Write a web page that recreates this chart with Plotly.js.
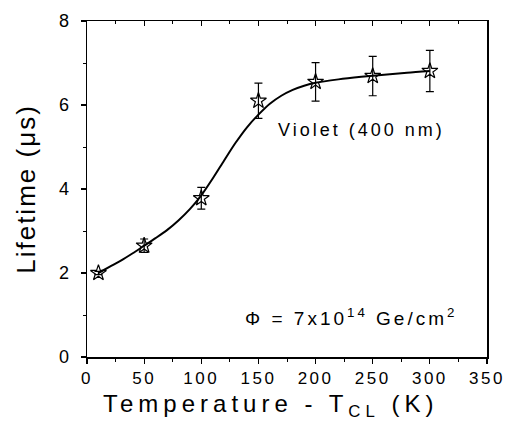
<!DOCTYPE html>
<html>
<head>
<meta charset="utf-8">
<script src="https://cdn.plot.ly/plotly-3.0.1.min.js"></script>
<style>
html,body{margin:0;padding:0;background:#fff;}
#chart{width:509px;height:431px;}
.xtick text{letter-spacing:2.5px;}
.ytitle{letter-spacing:2px;}
.annotation-text{letter-spacing:3px;}
</style>
</head>
<body>
<div id="chart"></div>
<script>
// Measured data points
const tempK = [10, 50, 100, 150, 200, 250, 300];
const lifetime = [2.0, 2.65, 3.78, 6.1, 6.55, 6.69, 6.81];
const lifetimeErr = [0.04, 0.16, 0.26, 0.42, 0.46, 0.47, 0.49];

// Fitted curve
const fitT = [10, 20, 30, 40, 50, 60, 70, 80, 90, 100, 110, 120, 130, 140, 150, 160, 170, 180, 190, 200, 220, 240, 260, 280, 300];
const fitLifetime = [2.0, 2.15, 2.3, 2.47, 2.65, 2.83, 3.02, 3.25, 3.52, 3.85, 4.25, 4.68, 5.1, 5.47, 5.77, 6.03, 6.22, 6.36, 6.46, 6.53, 6.61, 6.67, 6.72, 6.77, 6.81];

const xTickVals = [0, 50, 100, 150, 200, 250, 300, 350];
const yTickVals = [0, 2, 4, 6, 8];

const xTitle = 'Temperature - T<sub>CL</sub> (K)';
const yTitle = 'Lifetime (μs)';
const label1 = 'Violet (400 nm)';
const label2 = 'Φ = 7x10<sup>14</sup> Ge/cm<sup>2</sup>';

const font = 'Liberation Sans, Arial, Helvetica, sans-serif';

const traces = [
  {
    x: fitT, y: fitLifetime, type: 'scatter', mode: 'lines',
    line: {color: '#000', width: 2, shape: 'spline', smoothing: 0.8},
    hoverinfo: 'skip', showlegend: false
  },
  {
    x: tempK, y: lifetime, type: 'scatter', mode: 'markers',
    marker: {symbol: 'star-open', size: 12, color: '#000', line: {width: 1.2, color: '#000'}},
    error_y: {type: 'data', array: lifetimeErr, visible: true, color: '#000', thickness: 1.2, width: 4},
    showlegend: false
  },
  {
    x: [0, 350], y: [0, 8], xaxis: 'x2', yaxis: 'y', type: 'scatter', mode: 'markers',
    marker: {opacity: 0}, hoverinfo: 'skip', showlegend: false
  }
];

const layout = {
  width: 509, height: 431,
  margin: {l: 87, r: 22, t: 21, b: 74},
  paper_bgcolor: '#fff', plot_bgcolor: '#fff',
  font: {family: font, color: '#000'},
  xaxis: {
    range: [0, 350], tickvals: xTickVals, ticktext: xTickVals.map(String),
    showgrid: false, zeroline: false,
    showline: true, linecolor: '#000', linewidth: 1.5, mirror: true,
    ticks: 'outside', ticklen: 5, tickwidth: 1.2, tickcolor: '#000',
    minor: {dtick: 25, tick0: 0, ticks: 'outside', ticklen: 3, tickwidth: 1, tickcolor: '#000', showgrid: false},
    tickfont: {size: 17, family: font}
  },
  xaxis2: {
    range: [0, 350], overlaying: 'x', side: 'top', anchor: 'y',
    tickvals: xTickVals, showticklabels: false,
    showgrid: false, zeroline: false, showline: false,
    ticks: 'inside', ticklen: 5, tickwidth: 1.2, tickcolor: '#000',
    minor: {dtick: 25, tick0: 0, ticks: 'inside', ticklen: 3, tickwidth: 1, tickcolor: '#000', showgrid: false}
  },
  yaxis: {
    range: [0, 8], tickvals: yTickVals, ticktext: yTickVals.map(String),
    showgrid: false, zeroline: false,
    showline: true, linecolor: '#000', linewidth: 1.5, mirror: true,
    ticks: 'outside', ticklen: 5, tickwidth: 1.2, tickcolor: '#000',
    ticklabelstandoff: 8,
    minor: {dtick: 1, tick0: 0, ticks: 'outside', ticklen: 3, tickwidth: 1, tickcolor: '#000', showgrid: false},
    tickfont: {size: 18, family: font},
    title: {text: yTitle, font: {size: 26, family: font}, standoff: 16}
  },
  annotations: [
    {x: 0.4575, y: -0.143, xref: 'paper', yref: 'paper', text: xTitle, showarrow: false,
     font: {size: 24, family: font, color: '#000'}, xanchor: 'center', yanchor: 'middle'},
    {x: 240, y: 5.4, xref: 'x', yref: 'y', text: label1, showarrow: false,
     font: {size: 18, family: font, color: '#000'}, xanchor: 'center', yanchor: 'middle'},
    {x: 231, y: 0.96, xref: 'x', yref: 'y', text: label2, showarrow: false,
     font: {size: 19, family: font, color: '#000'}, xanchor: 'center', yanchor: 'middle'}
  ]
};

Plotly.newPlot('chart', traces, layout, {displayModeBar: false, staticPlot: true}).then(function(){
  const ann = document.querySelectorAll('.annotation-text');
  if (ann[0]) ann[0].style.letterSpacing = '5px';
});
</script>
</body>
</html>
